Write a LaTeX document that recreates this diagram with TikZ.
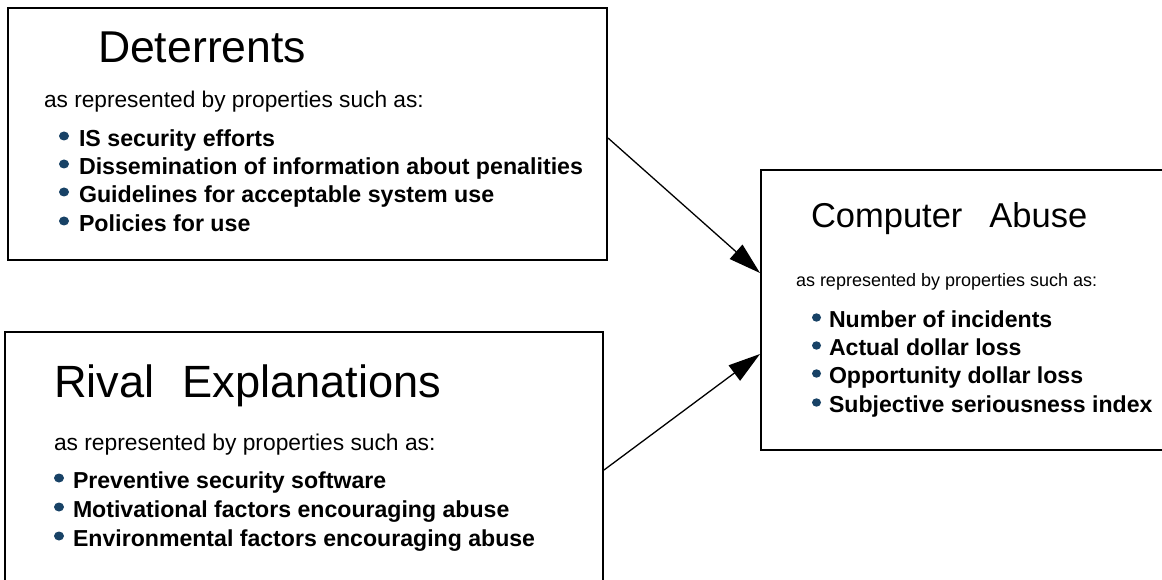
\documentclass[tikz,border=0pt]{standalone}
\usepackage{fontspec}
\setmainfont{Liberation Sans}
\usetikzlibrary{arrows.meta,calc}
\definecolor{bulletblue}{RGB}{24,66,102}
\tikzset{
  box/.style={draw=black, line width=2pt, fill=none, anchor=north west, inner sep=0pt},
  txt/.style={anchor=base west, inner sep=0pt, outer sep=0pt},
  title/.style={txt, font=\fontsize{44.6}{50}\selectfont},
  subt/.style={txt, font=\fontsize{22.7}{26}\selectfont},
  item/.style={txt, font=\bfseries\fontsize{23.2}{26}\selectfont},
  citem/.style={txt, font=\bfseries\fontsize{23.1}{26}\selectfont},
  dot/.style={fill=bulletblue},
  conn/.style={line width=1.3pt, -{Triangle[length=32pt,width=19pt]}}
}
\begin{document}
\begin{tikzpicture}[x=1pt,y=-1pt]
\clip (0,0) rectangle (1162,580);
% boxes
\node[box, minimum width=599pt, minimum height=252pt] (b1) at (7,7) {};
\node[box, minimum width=598pt, minimum height=270pt] (b2) at (4,331) {};
\node[box, minimum width=420pt, minimum height=280pt] (b3) at (760,169) {};
% Deterrents
\node[title] (t1) at (98,63) {Deterrents};
\node[subt] (s1) at (44,108) {as represented by properties such as:};
\node[item] (i11) at (79,147) {IS security efforts};
\node[item] (i12) at (79,175) {Dissemination of information about penalities};
\node[item] (i13) at (79,203) {Guidelines for acceptable system use};
\node[item] (i14) at (79,232) {Policies for use};
\foreach \n in {i11,i12,i13,i14}
  \fill[dot] ([xshift=-15pt,yshift=11pt]\n.base west) ellipse [x radius=5pt, y radius=4.5pt];
% Rival Explanations
\node[title, font=\fontsize{45.2}{50}\selectfont] (t2) at (54,397) {Rival\hspace{28pt}Explanations};
\node[subt, font=\fontsize{22.8}{26}\selectfont] (s2) at (54,450) {as represented by properties such as:};
\node[citem] (i21) at (73,488) {Preventive security software};
\node[citem] (i22) at (73,517) {Motivational factors encouraging abuse};
\node[citem] (i23) at (73,546) {Environmental factors encouraging abuse};
\foreach \n in {i21,i22,i23}
  \fill[dot] ([xshift=-14pt,yshift=10pt]\n.base west) ellipse [x radius=5pt, y radius=4.5pt];
% Computer Abuse
\node[txt, font=\fontsize{34.5}{40}\selectfont] (t3) at (811,228) {Computer\hspace{27pt}Abuse};
\node[subt, font=\fontsize{18}{22}\selectfont] (s3) at (796,287) {as represented by properties such as:};
\node[citem] (i31) at (829,327) {Number of incidents};
\node[citem] (i32) at (829,355) {Actual dollar loss};
\node[citem] (i33) at (829,383) {Opportunity dollar loss};
\node[citem] (i34) at (829,412) {Subjective seriousness index};
\foreach \n in {i31,i32,i33,i34}
  \fill[dot] ([xshift=-12.5pt,yshift=9.5pt]\n.base west) ellipse [x radius=4.5pt, y radius=4.2pt];
% connectors
\draw[conn] ([yshift=-4pt]b1.east) -- ([yshift=37pt]b3.west);
\draw[conn] ([yshift=-3pt]b2.east) -- ([yshift=-44pt]b3.west);
\end{tikzpicture}
\end{document}
